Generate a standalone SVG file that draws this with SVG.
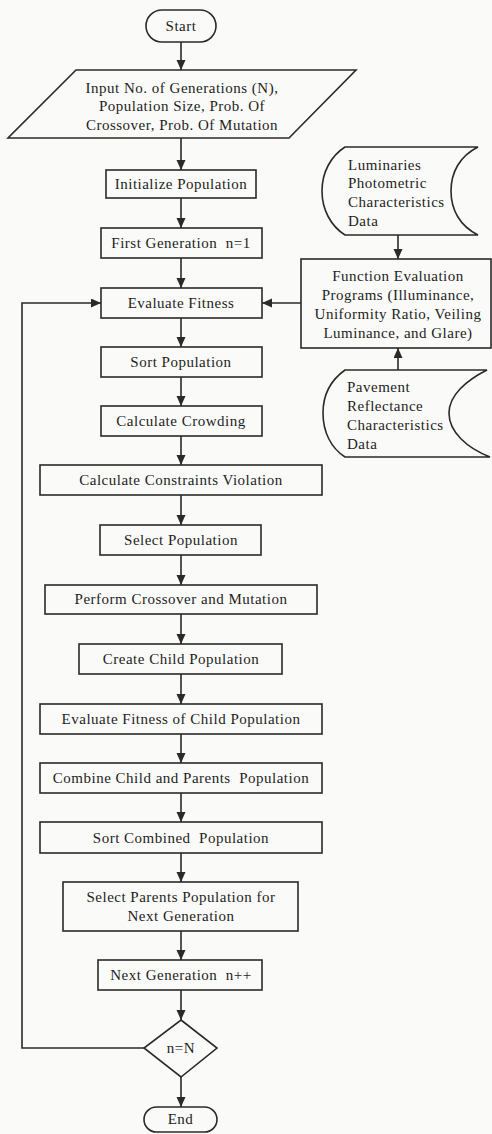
<svg xmlns="http://www.w3.org/2000/svg" width="492" height="1134" viewBox="0 0 492 1134">
<defs>
<marker id="ah" markerUnits="userSpaceOnUse" markerWidth="10" markerHeight="10" refX="10" refY="4.5" orient="auto">
<path d="M0,0 L10,4.5 L0,9 Z" fill="#2a2a2a"/>
</marker>
<style>
.s{fill:#fafaf8;stroke:#2a2a2a;stroke-width:1.6}
.c{fill:none;stroke:#2a2a2a;stroke-width:1.6;marker-end:url(#ah)}
text{font-family:"Liberation Serif","Times New Roman",serif;font-size:15px;letter-spacing:0.5px;fill:#1e1e1e}
.m{text-anchor:middle}
</style>
</defs>
<rect width="492" height="1134" fill="#fafaf8"/>
<g id="connectors">
<line class="c" x1="181" y1="42" x2="181" y2="70"/>
<line class="c" x1="181" y1="138" x2="181" y2="170"/>
<line class="c" x1="181" y1="198" x2="181" y2="228"/>
<line class="c" x1="181" y1="258" x2="181" y2="288"/>
<line class="c" x1="181" y1="318" x2="181" y2="347"/>
<line class="c" x1="181" y1="377" x2="181" y2="406"/>
<line class="c" x1="181" y1="436" x2="181" y2="465"/>
<line class="c" x1="181" y1="495" x2="181" y2="525"/>
<line class="c" x1="181" y1="555" x2="181" y2="585"/>
<line class="c" x1="181" y1="614" x2="181" y2="644"/>
<line class="c" x1="181" y1="674" x2="181" y2="704"/>
<line class="c" x1="181" y1="734" x2="181" y2="763"/>
<line class="c" x1="181" y1="793" x2="181" y2="822"/>
<line class="c" x1="181" y1="853" x2="181" y2="882"/>
<line class="c" x1="181" y1="931" x2="181" y2="960"/>
<line class="c" x1="181" y1="990" x2="181" y2="1020"/>
<line class="c" x1="181" y1="1077" x2="181" y2="1107"/>
<polyline class="c" points="144,1048 22,1048 22,303 101,303"/>
<line class="c" x1="301" y1="303" x2="262" y2="303"/>
<line class="c" x1="398" y1="235" x2="398" y2="259"/>
<line class="c" x1="398" y1="370" x2="398" y2="348"/>
</g>
<g id="start"><rect class="s" x="146" y="10" width="70" height="32" rx="16"/><text class="m" x="181" y="31">Start</text></g>
<g id="input"><polygon class="s" points="76,70 356,70 289,138 8,138"/>
<text class="m" x="182" y="93">Input No. of Generations (N),</text>
<text class="m" x="182" y="111">Population Size, Prob. Of</text>
<text class="m" x="182" y="130">Crossover, Prob. Of Mutation</text></g>
<g id="init"><rect class="s" x="106" y="170" width="150" height="28"/><text class="m" x="181" y="189">Initialize Population</text></g>
<g id="first"><rect class="s" x="101" y="228" width="161" height="30"/><text class="m" x="181" y="248" xml:space="preserve">First Generation  n=1</text></g>
<g id="evalfit"><rect class="s" x="101" y="288" width="161" height="30"/><text class="m" x="181" y="308">Evaluate Fitness</text></g>
<g id="sort"><rect class="s" x="101" y="347" width="161" height="30"/><text class="m" x="181" y="367">Sort Population</text></g>
<g id="crowd"><rect class="s" x="101" y="406" width="161" height="30"/><text class="m" x="181" y="426">Calculate Crowding</text></g>
<g id="constr"><rect class="s" x="40" y="465" width="282" height="30"/><text class="m" x="181" y="485">Calculate Constraints Violation</text></g>
<g id="select"><rect class="s" x="100" y="525" width="161" height="30"/><text class="m" x="181" y="545">Select Population</text></g>
<g id="cross"><rect class="s" x="45" y="585" width="272" height="29"/><text class="m" x="181" y="604">Perform Crossover and Mutation</text></g>
<g id="child"><rect class="s" x="79" y="644" width="203" height="30"/><text class="m" x="181" y="664">Create Child Population</text></g>
<g id="evalchild"><rect class="s" x="40" y="704" width="282" height="30"/><text class="m" x="181" y="724">Evaluate Fitness of Child Population</text></g>
<g id="combine"><rect class="s" x="40" y="763" width="282" height="30"/><text class="m" x="181" y="783" xml:space="preserve">Combine Child and Parents  Population</text></g>
<g id="sortcomb"><rect class="s" x="40" y="822" width="282" height="31"/><text class="m" x="181" y="843" xml:space="preserve">Sort Combined  Population</text></g>
<g id="selparents"><rect class="s" x="63" y="882" width="235" height="49"/>
<text class="m" x="181" y="902">Select Parents Population for</text>
<text class="m" x="181" y="921">Next Generation</text></g>
<g id="nextgen"><rect class="s" x="98" y="960" width="164" height="30"/><text class="m" x="181" y="980" xml:space="preserve">Next Generation  n++</text></g>
<g id="decision"><polygon class="s" points="181,1020 217,1048 181,1077 144,1048"/><text class="m" x="181" y="1053">n=N</text></g>
<g id="end"><rect class="s" x="144" y="1107" width="73" height="25" rx="12.5"/><text class="m" x="180.5" y="1124">End</text></g>
<g id="lumdata"><path class="s" d="M345,147 L478,147 C460,156 451,172 451,191 C451,210 460,226 478,235 L345,235 C331,226 322,210 322,191 C322,172 331,156 345,147 Z"/>
<text x="348" y="170">Luminaries</text>
<text x="348" y="188">Photometric</text>
<text x="348" y="207">Characteristics</text>
<text x="348" y="226">Data</text></g>
<g id="funceval"><rect class="s" x="301" y="259" width="190" height="89"/>
<text class="m" x="398" y="281">Function Evaluation</text>
<text class="m" x="398" y="300">Programs (Illuminance,</text>
<text class="m" x="398" y="319">Uniformity Ratio, Veiling</text>
<text class="m" x="398" y="338">Luminance, and Glare)</text></g>
<g id="pavedata"><path class="s" d="M345,370 L487,370 C467,380 449,395 449,413 C449,432 467,448 490,457 L345,457 C331,448 323,432 323,413 C323,395 331,380 345,370 Z"/>
<text x="347" y="392">Pavement</text>
<text x="347" y="411">Reflectance</text>
<text x="347" y="430">Characteristics</text>
<text x="347" y="449">Data</text></g>
</svg>
